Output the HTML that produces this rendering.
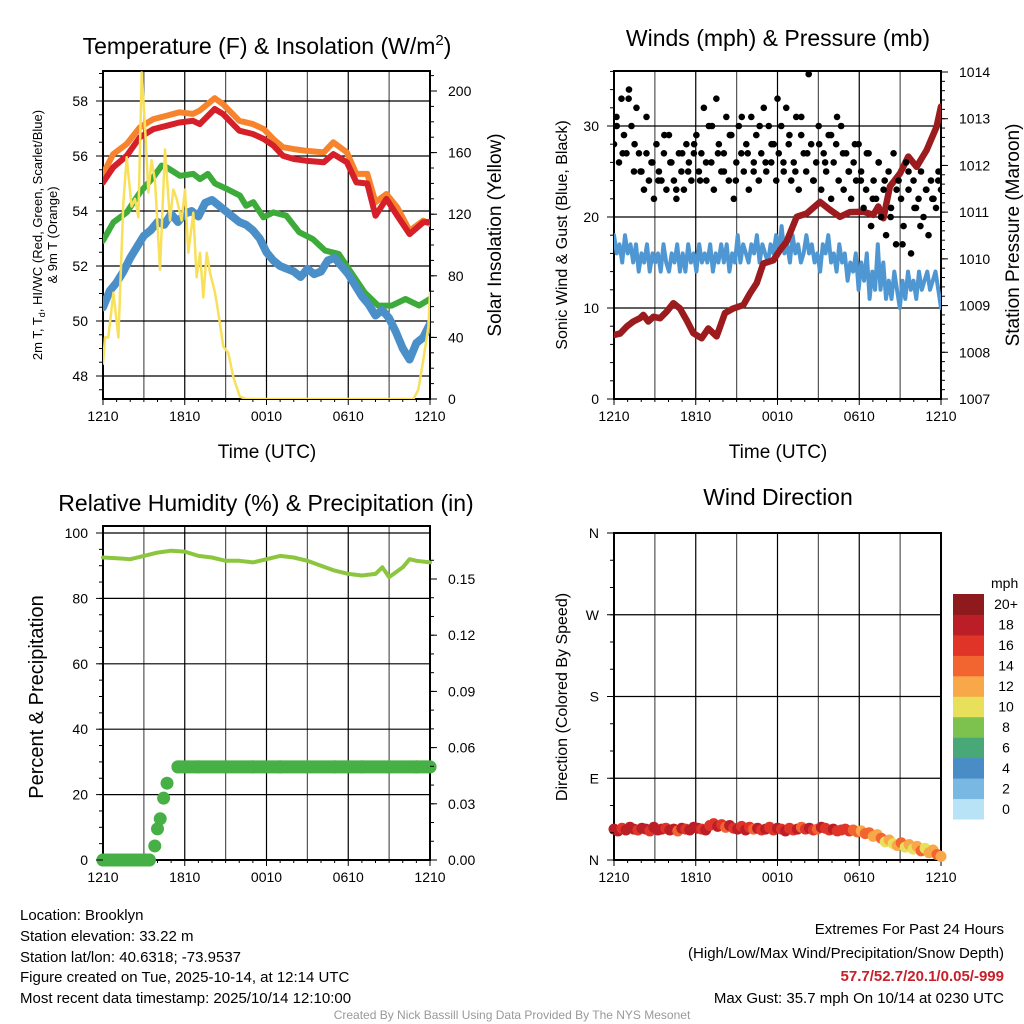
<!DOCTYPE html>
<html><head><meta charset="utf-8"><style>
html,body{margin:0;padding:0;background:#fff;}
svg{display:block;font-family:"Liberation Sans",Arial,sans-serif;}
</style></head><body>
<svg id="svg" width="1024" height="1024" viewBox="0 0 1024 1024">
<rect width="1024" height="1024" fill="#fff"/>
<text x="267" y="54" font-size="23" text-anchor="middle">Temperature (F) &amp; Insolation (W/m<tspan dy="-9" font-size="15">2</tspan><tspan dy="9">)</tspan></text>
<text x="778" y="46" font-size="23" text-anchor="middle">Winds (mph) &amp; Pressure (mb)</text>
<text x="266" y="511" font-size="23" text-anchor="middle">Relative Humidity (%) &amp; Precipitation (in)</text>
<text x="778" y="505" font-size="23" text-anchor="middle">Wind Direction</text>

<text transform="translate(42,235) rotate(-90)" font-size="13" text-anchor="middle">2m T, T<tspan dy="3" font-size="9">d</tspan><tspan dy="-3">, HI/WC (Red, Green, Scarlet/Blue)</tspan></text>
<text transform="translate(57,235) rotate(-90)" font-size="13" text-anchor="middle">&amp; 9m T (Orange)</text>
<text transform="translate(501,235) rotate(-90)" font-size="19" text-anchor="middle">Solar Insolation (Yellow)</text>
<text transform="translate(567,235) rotate(-90)" font-size="16" text-anchor="middle">Sonic Wind &amp; Gust (Blue, Black)</text>
<text transform="translate(1019,235) rotate(-90)" font-size="19" text-anchor="middle">Station Pressure (Maroon)</text>
<text transform="translate(43,697) rotate(-90)" font-size="20" text-anchor="middle">Percent &amp; Precipitation</text>
<text transform="translate(567,697) rotate(-90)" font-size="16" text-anchor="middle">Direction (Colored By Speed)</text>
<text x="267" y="458" font-size="19" text-anchor="middle">Time (UTC)</text>
<text x="778" y="458" font-size="19" text-anchor="middle">Time (UTC)</text>

<g font-size="15">
<text x="20" y="920">Location: Brooklyn</text>
<text x="20" y="941">Station elevation: 33.22 m</text>
<text x="20" y="962">Station lat/lon: 40.6318; -73.9537</text>
<text x="20" y="982">Figure created on Tue, 2025-10-14, at 12:14 UTC</text>
<text x="20" y="1003">Most recent data timestamp: 2025/10/14 12:10:00</text>
</g>
<g font-size="15" text-anchor="end">
<text x="1004" y="934">Extremes For Past 24 Hours</text>
<text x="1004" y="958">(High/Low/Max Wind/Precipitation/Snow Depth)</text>
<text x="1004" y="981" fill="#c8202a" font-weight="bold">57.7/52.7/20.1/0.05/-999</text>
<text x="1004" y="1003">Max Gust: 35.7 mph On 10/14 at 0230 UTC</text>
</g>
<text x="512" y="1019" font-size="12" fill="#999" text-anchor="middle">Created By Nick Bassill Using Data Provided By The NYS Mesonet</text>
<g id="layer"></g>
</svg>
<script>
// ---- data ----
const timeLabels = ["1210","1810","0010","0610","1210"];
const tempTicks = [48,50,52,54,56,58];
const solarTicks = [0,40,80,120,160,200];
const windTicks = [0,10,20,30];
const presTicks = [1007,1008,1009,1010,1011,1012,1013,1014];
const rhTicks = [0,20,40,60,80,100];
const precipTicks = [0,0.03,0.06,0.09,0.12,0.15];
const precipTickLabels = ["0.00","0.03","0.06","0.09","0.12","0.15"];
const dirTicks = [0,90,180,270,360];
const dirTickLabels = ["N","E","S","W","N"];

const redT = [0,0.75,1.75,2.7,3.7,4.7,5.6,6.6,7.1,8.2,8.8,10,11,11.8,12.5,13.2,14,14.9,16.2,16.9,17.9,18.6,19.4,20,20.8,21.6,22.5,23.5,24];
const redV = [55.04,55.59,56.01,56.68,56.98,57.10,57.22,57.28,57.16,57.71,57.53,56.92,56.80,56.62,56.38,56.01,55.89,55.83,55.77,56.07,55.77,55.04,55.0,53.83,54.44,53.83,53.16,53.59,53.6];
const orangeT = [0,0.75,1.75,2.7,3.7,4.7,5.6,6.6,7.1,8.2,8.8,10,11,11.8,12.5,13.2,14,14.9,16.2,16.9,17.9,18.6,19.4,20,20.8,21.6,22.5,23.5,24];
const orangeV = [55.35,56.07,56.44,57.04,57.34,57.47,57.59,57.53,57.65,58.1,57.89,57.28,57.16,56.98,56.62,56.32,56.25,56.19,56.13,56.50,56.13,55.35,55.35,54.32,54.62,54.13,53.28,53.65,53.53];
const greenT = [0,0.76,1.74,2.72,3.69,4.3,4.67,5.65,6.63,7.12,7.7,8.22,9.1,10.05,10.5,11.03,11.77,12.5,13.45,14.4,15.4,16.3,17.3,18.2,19.2,20.2,21.2,22.2,23.2,24];
const greenV = [52.92,53.59,53.95,54.68,55.23,55.65,55.59,55.28,55.35,55.16,55.35,55.0,54.8,54.56,54.19,54.32,53.77,53.95,53.83,53.23,52.98,52.56,52.44,51.77,51.04,50.56,50.56,50.80,50.56,50.8];
const blueT = [0,0.5,1,1.5,2,2.5,3,3.5,4,4.5,5,5.5,6,6.5,7,7.5,8,8.5,9,9.5,10,10.5,11,11.5,12,12.5,13,13.5,14,14.5,15,15.5,16,16.5,17,17.5,18,18.5,19,19.5,20,20.5,21,21.5,22,22.5,23,23.5,24];
const blueV = [50.5,51.1,51.4,51.8,52.3,52.7,53.1,53.3,53.6,53.5,53.9,53.6,53.9,54.0,53.8,54.3,54.4,54.2,54.0,53.8,53.6,53.5,53.3,53.0,52.5,52.2,52.0,51.9,51.8,51.6,51.9,51.7,51.8,52.2,52.3,52.0,51.7,51.3,50.9,50.6,50.2,50.4,50.1,49.6,49.0,48.6,49.2,49.4,49.9];
const solarT = [0,0.15,0.39,0.76,1.13,1.49,1.74,2.1,2.35,2.6,2.84,3.08,3.33,3.57,3.82,4.18,4.55,4.92,5.16,5.41,5.77,6.02,6.26,6.63,6.87,7.12,7.36,7.61,7.85,8.22,8.46,8.83,9.2,9.57,10.05,10.54,22.78,23.14,23.5,23.88,24];
const solarV = [23,40,40,69,40,127,157,125,130,118,212,177,134,155,142,84,162,116,136,130,116,136,95,121,79,95,66,95,82,69,56,34,30,14,1.5,0,0,6,25,47,69];

const presT = [0,0.44,0.93,1.42,1.91,2.15,2.52,2.89,3.38,3.87,4.36,4.84,5.33,5.82,6.43,6.92,7.53,8.15,8.76,9.49,9.98,10.47,10.96,11.69,12.18,12.67,13.41,14.14,15.12,15.85,16.59,17.32,18.3,19.03,19.4,19.77,20.25,20.99,21.6,22.21,22.95,23.68,24];
const presV = [1008.37,1008.4,1008.55,1008.66,1008.73,1008.8,1008.66,1008.76,1008.73,1008.87,1009.05,1008.94,1008.69,1008.41,1008.30,1008.51,1008.34,1008.84,1008.94,1009.01,1009.26,1009.48,1009.9,1009.97,1010.19,1010.37,1010.9,1010.97,1011.22,1011.05,1010.9,1011.0,1011.01,1010.94,1011.12,1010.87,1011.55,1011.83,1012.19,1011.97,1012.33,1012.83,1013.26];
const windV = [18,16,17,15,18,16,17,15,17,14,16,15,17,14,16,15,16,14,17,15,
 14,16,15,17,14,16,14,17,15,16,14,17,15,16,15,17,14,16,15,17,
 15,17,14,16,15,18,15,17,16,15,17,16,18,15,17,16,15,17,16,18,
 16,19,16,17,15,18,16,17,15,16,18,16,17,15,16,14,17,16,18,15,
 16,14,17,15,16,13,15,14,16,12,15,13,16,11,14,12,17,12,15,11,
 13,11,14,12,10,13,11,14,12,13,11,14,12,13,14,12,13,14,12,10];
const gustV = [28,31,26,33,29,27,34,30,25,32,27,
 25,23,27,24,26,22,28,25,24,27,23,29,26,24,22,27,25,23,28,26,24,27,
 29,25,27,32,24,30,26,23,33,28,25,27,31,24,29,22,26,30,27,25,28,23,31,26,29,24,27,32,25,30,26,28,24,
 27,30,25,32,28,24,26,31,23,29,27,25,35.7,28,24,26,30,23,27,25,29,22,26,28,24,30,23,27,25,22,26,24,28,
 25,21,23,27,19,24,22,26,20,23,18,25,21,27,17,24,22,19,26,23,16,24,21,22,25,20,23,18,24,22,21,25,23];
const gustV2 = [30,27,33,28,25,31,26,24,29,26,23,27,25,28,24,26,30,27,25,29,24,31,27,25,30,26,28,33,26,29,25,31,27,24,28,26,29,31,27,25,28,24,27,22,26,24,20,23,17,25,21,19,23,22,24];

const rhT = [0,1,2,3,4,5,6,7,8,9,10,11,12,13,14,15,16,17,18,19,20,20.5,21,21.5,22,22.5,23,24];
const rhV = [92.5,92.3,92,93,94,94.6,94.3,93,92.5,91.5,91.5,91,92,93,92.5,91.5,90,88.5,87.5,87,87.5,89.5,86.5,88,89.5,92,91.5,91];
const precipT = [0,0.5,1,1.5,2,2.5,3,3.4,3.8,4.0,4.2,4.45,4.7,5.5,7,9,11,13,15,17,19,21,23,24];
const precipV = [0,0,0,0,0,0,0,0,0.0075,0.0166,0.022,0.033,0.041,0.0497,0.0497,0.0497,0.0497,0.0497,0.0497,0.0497,0.0497,0.0497,0.0497,0.0497];

const dirV = [34,32,35,33,36,34,33,35,34,32,36,33,34,35,33,34,32,35,34,33,36,35,34,33,38,40,37,39,36,38,35,34,37,33,36,34,35,33,34,36,33,35,34,32,35,33,34,36,34,35,33,34,36,35,33,34,32,33,34,32,33,31,32,29,30,26,28,24,20,22,18,16,19,14,17,12,15,10,13,8,11,6,4];
const speedV = [18,18,17,18,19,18,17,18,18,17,18,19,18,17,18,18,15,18,17,18,19,18,17,18,17,16,18,17,15,18,17,18,16,18,17,15,18,17,18,16,17,18,17,18,16,17,18,15,17,18,17,15,18,16,17,18,17,16,17,16,15,14,13,15,14,13,12,15,11,13,10,12,14,11,13,10,12,14,11,12,13,14,13];
const barColors = ["#b8e2f6","#7ab8e4","#4a8cc6","#48a878","#7dc24f","#e8e05a","#f8a848","#f26530","#e03429","#bb1e27","#8e1a1e"];
const barLabels = ["0","2","4","6","8","10","12","14","16","18","20+"];

// ---- drawing ----
const NS = "http://www.w3.org/2000/svg";
const layer = document.getElementById("layer");
function mk(tag, attrs, parent){ const e=document.createElementNS(NS,tag); for(const k in attrs) e.setAttribute(k,attrs[k]); (parent||layer).appendChild(e); return e; }
function lin(d0,d1,r0,r1){ return v=> r0+(v-d0)*(r1-r0)/(d1-d0); }

function panel(name, x0,x1,y0,y1, yl, hTicks, hGrid){
  const g = mk("g",{});
  
  
  const xs = lin(0,24,x0,x1);
  for(let h=0;h<=24;h+=3){ const l=mk("line",{x1:xs(h),x2:xs(h),y1:y0,y2:y1,stroke:(h%6==0)?"#000":"#555","stroke-width":1.2},g);   }
  hGrid.forEach(v=>{ const l=mk("line",{x1:x0,x2:x1,y1:yl(v),y2:yl(v),stroke:"#000","stroke-width":1.2},g);   });
  for(let h=0;h<=24;h+=1){ mk("line",{x1:xs(h),x2:xs(h),y1:y1,y2:y1+(h%6==0?6:3),stroke:"#000","stroke-width":1},g); }
  timeLabels.forEach((t,i)=>{ const tx=mk("text",{x:xs(i*6),y:y1+22,"font-size":14,"text-anchor":"middle"},g); tx.textContent=t;   });
  const fr = mk("rect",{x:x0,y:y0,width:x1-x0,height:y1-y0,fill:"none",stroke:"#000","stroke-width":2},g);
   
  return {g,xs};
}
function leftTicks(g,x0,ys,ticks,labels,minorStep,lo,hi){
  ticks.forEach((v,i)=>{ mk("line",{x1:x0-7,x2:x0,y1:ys(v),y2:ys(v),stroke:"#000"},g);
    const t=mk("text",{x:x0-15,y:ys(v)+5,"font-size":14,"text-anchor":"end"},g); t.textContent=labels?labels[i]:v;
      });
  if(minorStep) for(let v=lo;v<=hi+1e-9;v+=minorStep) mk("line",{x1:x0-4,x2:x0,y1:ys(v),y2:ys(v),stroke:"#000"},g);
}
function rightTicks(g,x1,ys,ticks,labels,minorStep,lo,hi){
  ticks.forEach((v,i)=>{ mk("line",{x1:x1,x2:x1+7,y1:ys(v),y2:ys(v),stroke:"#000"},g);
    const t=mk("text",{x:x1+18,y:ys(v)+5,"font-size":14},g); t.textContent=labels?labels[i]:v;
      });
  if(minorStep) for(let v=lo;v<=hi+1e-9;v+=minorStep) mk("line",{x1:x1,x2:x1+4,y1:ys(v),y2:ys(v),stroke:"#000"},g);
}
function line(g,xs,ys,T,V,color,w,name){
  const n=Math.min(T.length,V.length); let d="";
  for(let i=0;i<n;i++) d+=(i?"L":"M")+xs(T[i]).toFixed(1)+","+ys(V[i]).toFixed(1);
  const p=mk("path",{d,fill:"none",stroke:color,"stroke-width":w,"stroke-linejoin":"round","stroke-linecap":"round"},g);
  
  
  return p;
}

// Panel 1
{
  const y0=71,y1=399;
  const yT=lin(48,58,376,101), yS=lin(0,200,399,91);
  const P=panel("temperature-panel",103,430,y0,y1,yT,tempTicks,tempTicks);
  const cp=mk("clipPath",{id:"c1"},P.g); mk("rect",{x:103,y:y0,width:327,height:y1-y0},cp);
  const g=mk("g",{"clip-path":"url(#c1)"},P.g);
  line(g,P.xs,yT,greenT,greenV,"#3dab3a",6,"heat-index-line");
  line(g,P.xs,yT,blueT,blueV,"#4b8fc8",8,"dewpoint-line");
  line(g,P.xs,yT,orangeT,orangeV,"#f7842c",6,"temp-9m-line");
  line(g,P.xs,yT,redT,redV,"#d5202a",6,"temp-2m-line");
  line(g,P.xs,yS,solarT,solarV,"#f8e05a",2.5,"solar-insolation-line");
  leftTicks(P.g,103,yT,tempTicks,null,0.5,47.5,59);
  rightTicks(P.g,430,yS,solarTicks,null,10,0,210);
}
// Panel 2
{
  const y0=71,y1=399;
  const yW=lin(0,30,399,126), yP=lin(1007,1014,399,72);
  const P=panel("winds-panel",614,941,y0,y1,yW,windTicks,[10,20,30]);
  const cp=mk("clipPath",{id:"c2"},P.g); mk("rect",{x:614,y:y0,width:327,height:y1-y0},cp);
  const g=mk("g",{"clip-path":"url(#c2)"},P.g);
  const wT=windV.map((v,i)=>i*24/(windV.length-1));
  line(g,P.xs,yW,wT,windV,"#4f97d2",4,"sonic-wind-line");
  line(g,P.xs,yP,presT,presV,"#9b1b1e",6.5,"pressure-line");
  gustV.forEach((v,i)=>{ const c=mk("circle",{cx:P.xs(i*24/(gustV.length-1)),cy:yW(v),r:3.3,fill:"#000"},g);
      });
  gustV2.forEach((v,i)=>{ const c=mk("circle",{cx:P.xs(0.2+i*23.6/(gustV2.length-1)),cy:yW(v),r:3.3,fill:"#000"},g);
      });
  leftTicks(P.g,614,yW,windTicks,null,2,0,36);
  rightTicks(P.g,941,yP,presTicks,null,0.2,1007,1014);
}
// Panel 3
{
  const y0=526,y1=860;
  const yR=lin(0,100,860,533), yPr=lin(0,0.15,860,579);
  const P=panel("humidity-panel",103,430,y0,y1,yR,rhTicks,rhTicks);
  line(P.g,P.xs,yR,rhT,rhV,"#8cc63f",4,"relative-humidity-line");
  const n=Math.min(precipT.length,precipV.length);
  for(let i=0;i<n-1;i++){
    if(precipV[i]===precipV[i+1]){
      const l=mk("line",{x1:P.xs(precipT[i]),x2:P.xs(precipT[i+1]),y1:yPr(precipV[i]),y2:yPr(precipV[i+1]),stroke:"#46b046","stroke-width":13,"stroke-linecap":"round"},P.g);
       
    }
  }
  for(let i=0;i<n;i++){ const c=mk("circle",{cx:P.xs(precipT[i]),cy:yPr(precipV[i]),r:6.5,fill:"#46b046"},P.g);
      }
  leftTicks(P.g,103,yR,rhTicks,null,5,0,100);
  rightTicks(P.g,430,yPr,precipTicks,precipTickLabels,0.01,0,0.16);
}
// Panel 4
{
  const y0=533,y1=860;
  const yD=lin(0,360,860,533);
  const P=panel("wind-direction-panel",614,941,y0,y1,yD,dirTicks,[90,180,270]);
  const n=Math.min(dirV.length,speedV.length);
  for(let i=0;i<n;i++){
    const ci=Math.min(10,Math.floor(speedV[i]/2));
    const c=mk("circle",{cx:P.xs(i*24/(n-1)),cy:yD(dirV[i]),r:5.5,fill:barColors[ci]},P.g);
     
  }
  leftTicks(P.g,614,yD,dirTicks,dirTickLabels,30,0,360);
  const cb=mk("g",{});
  
  
  const t=mk("text",{x:991,y:588,"font-size":14},cb); t.textContent="mph";
  const bh=(819-594)/barColors.length;
  barColors.forEach((c,i)=>{ const yy=819-(i+1)*bh;
    const r=mk("rect",{x:953,y:yy,width:31,height:bh+0.5,fill:c},cb);
     
    const tx=mk("text",{x:1006,y:yy+bh/2+5,"font-size":14,"text-anchor":"middle"},cb); tx.textContent=barLabels[i];
      });
}
</script>
</body></html>
